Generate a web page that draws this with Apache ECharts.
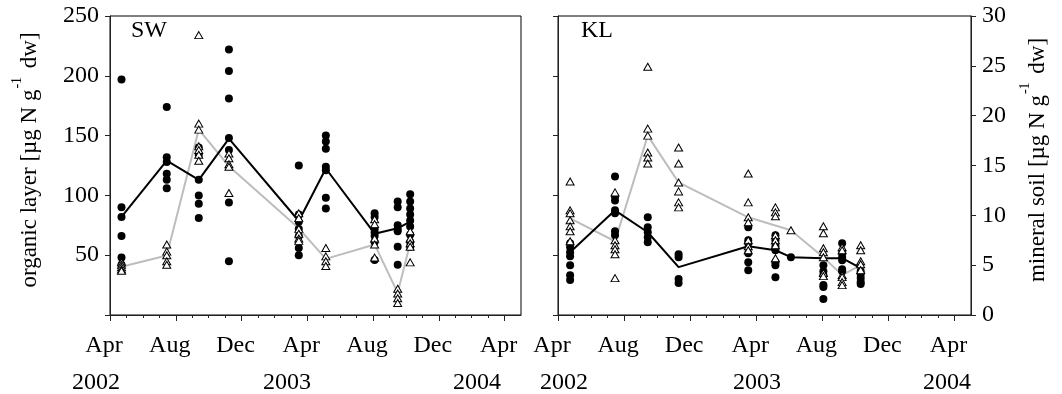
<!DOCTYPE html>
<html><head><meta charset="utf-8">
<script src="https://cdn.jsdelivr.net/npm/echarts@6/dist/echarts.min.js"></script>
<style>html,body{margin:0;padding:0;background:#fff}#c{width:1062px;height:394px}</style>
</head><body><div id="c"></div>
<script>
// ---- data ----
const monthNames = ['Apr', 'Aug', 'Dec'];
const yearLabels = ['2002', '2003', '2004'];

// SW (organic layer, left panel)
const swDates = ['2002-04-22','2002-07-15','2002-09-13','2002-11-08','2003-03-16','2003-05-05','2003-08-04','2003-09-16','2003-10-09'];
const swCircles = [
  [197, 90, 82, 66, 48, 42],
  [174, 132, 128, 118, 113, 106],
  [140, 134, 113, 100, 93, 81],
  [222, 204, 181, 148, 138, 94, 45],
  [125, 84, 78, 72, 66, 56, 50],
  [150, 145, 139, 124, 121, 98, 89],
  [85, 82, 72, 69, 66, 61, 46],
  [95, 90, 75, 72, 70, 57, 42],
  [101, 95, 89, 84, 79, 74, 67, 61, 57]
];
const swTriangles = [
  [44, 42, 40, 38, 37],
  [59, 53, 50, 45, 42],
  [234, 160, 155, 141, 138, 134, 129],
  [135, 131, 126, 124, 102],
  [85, 81, 72, 68, 64, 62],
  [56, 49, 45, 41],
  [80, 76, 64, 59, 48],
  [22, 18, 14, 10],
  [70, 64, 60, 57, 44]
];
const swCircleMean = [82, 129, 113, 147.5, 78.6, 122.5, 68, 72.5, 78];
const swTriangleMean = [40.3, 49.7, 155, 124.4, 72.5, 46.9, 59, 18.5, 60];

// KL (mineral soil, right panel)
const klDates = ['2002-04-23','2002-07-15','2002-09-14','2002-11-10','2003-03-17','2003-05-06','2003-06-04','2003-08-03','2003-09-07','2003-10-11'];
const klCircles = [
  [7.2, 6.8, 6.3, 5.9, 5.0, 4.0, 3.5],
  [13.9, 11.9, 11.5, 10.5, 10.2, 8.4, 8.0],
  [9.8, 8.8, 8.3, 7.8, 7.3],
  [6.1, 5.8, 3.6, 3.2],
  [8.8, 7.5, 7.2, 6.2, 5.3, 4.5],
  [8.0, 7.5, 6.9, 6.5, 5.3, 5.0, 3.8],
  [5.8],
  [5.0, 4.4, 4.0, 3.0, 2.8, 1.6],
  [7.2, 6.2, 5.8, 5.5, 4.6, 4.4],
  [4.4, 4.1, 3.7, 3.3, 3.1]
];
const klTriangles = [
  [13.4, 10.5, 10.2, 9.5, 8.9, 8.4, 7.4],
  [12.3, 7.5, 7.0, 6.6, 6.1, 3.7],
  [24.9, 18.7, 18.0, 16.3, 15.8, 15.2],
  [16.8, 15.2, 13.3, 12.4, 11.3, 10.8],
  [14.2, 11.3, 9.8, 9.3, 7.5, 6.9, 6.5],
  [10.8, 10.3, 9.9, 8.0, 7.5, 7.0, 5.7],
  [8.5],
  [8.9, 8.2, 6.7, 6.3, 5.8, 4.2, 3.9],
  [6.8, 6.5, 4.0, 3.8, 3.3, 3.0],
  [7.0, 6.5, 5.4, 5.1, 4.5]
];
const klCircleMean = [6.3, 10.5, 8.3, 4.8, 6.9, 6.5, 5.8, 5.7, 5.7, 4.7];
const klTriangleMean = [9.7, 7.4, 18.0, 13.3, 9.8, null, 8.5, 5.8, 4.0, 5.0];

// ---- helpers ----
function toMonths(s) {
  const [y, m, d] = s.split('-').map(Number);
  const dim = new Date(y, m, 0).getDate();
  return (y - 2002) * 12 + (m - 4) + (d - 1) / dim;
}
function points(dates, groups) {
  const out = [];
  groups.forEach((g, i) => g.forEach(v => out.push([toMonths(dates[i]), v])));
  return out;
}
function linePts(dates, vals) {
  return vals.map((v, i) => [toMonths(dates[i]), v]);
}

const FONT = "'Liberation Serif', 'Times New Roman', serif";
const majorX = [0, 4, 8, 12, 16, 20, 24];
const minorX = [1,2,3,5,6,7,9,10,11,13,14,15,17,18,19,21,22,23];
const axisColor = '#222';

function xMain(gi) {
  return {
    type: 'value', gridIndex: gi, min: 0, max: 25, interval: 4, position: 'bottom',
    axisLine: { show: true, onZero: false, lineStyle: { color: axisColor, width: 1 } },
    axisTick: { show: true, inside: false, length: 6, customValues: majorX, lineStyle: { color: axisColor } },
    axisLabel: {
      show: true, customValues: majorX, margin: 19, fontSize: 24, fontFamily: FONT, color: '#000',
      padding: [0, 12, 0, 0],
      formatter: v => monthNames[Math.round(v / 4) % 3]
    },
    splitLine: { show: false }
  };
}
function xMinor(gi) {
  return {
    type: 'value', gridIndex: gi, min: 0, max: 25, interval: 1, position: 'bottom',
    axisLine: { show: false, onZero: false },
    axisTick: { show: true, length: 3, customValues: minorX, lineStyle: { color: axisColor } },
    axisLabel: { show: false },
    splitLine: { show: false }
  };
}
function yAx(gi, pos, max, interval, showLabel) {
  return {
    type: 'value', gridIndex: gi, position: pos, min: 0, max: max, interval: interval,
    axisLine: { show: true, onZero: false, lineStyle: { color: axisColor, width: 1 } },
    axisTick: { show: true, length: 5, lineStyle: { color: axisColor } },
    axisLabel: {
      show: showLabel, margin: 11, fontSize: 24, fontFamily: FONT, color: '#000',
      formatter: v => (pos === 'left' && v === 0) ? '' : String(v)
    },
    splitLine: { show: false }
  };
}

const circleStyle = { symbol: 'circle', symbolSize: 8, itemStyle: { color: '#000', opacity: 1 } };
const triStyle = { symbol: 'triangle', symbolSize: [8, 7], itemStyle: { color: '#fff', borderColor: '#000', borderWidth: 1, opacity: 1 } };

function seriesFor(xi, yi, dates, circ, tri, cMean, tMean) {
  return [
    { type: 'line', xAxisIndex: xi, yAxisIndex: yi, data: linePts(dates, tMean), connectNulls: true,
      symbol: 'none', lineStyle: { color: '#bdbdbd', width: 2 }, z: 2 },
    { type: 'line', xAxisIndex: xi, yAxisIndex: yi, data: linePts(dates, cMean), connectNulls: true,
      symbol: 'none', lineStyle: { color: '#000', width: 2 }, z: 2 },
    Object.assign({ type: 'scatter', xAxisIndex: xi, yAxisIndex: yi, data: points(dates, circ), z: 3 }, circleStyle),
    Object.assign({ type: 'scatter', xAxisIndex: xi, yAxisIndex: yi, data: points(dates, tri), z: 4 }, triStyle)
  ];
}

const yearPos = [[96, 287, 477], [564, 757, 947]];
const graphics = [];
yearPos.forEach(row => row.forEach((x, i) => graphics.push({
  type: 'text', x: x, y: 383, silent: true,
  style: { text: yearLabels[i], font: '24px ' + FONT, fill: '#000', align: 'center', verticalAlign: 'middle' }
})));
graphics.push({ type: 'text', x: 131, y: 31, style: { text: 'SW', font: '24px ' + FONT, fill: '#000', align: 'left', verticalAlign: 'middle' } });
graphics.push({ type: 'text', x: 581, y: 31, style: { text: 'KL', font: '24px ' + FONT, fill: '#000', align: 'left', verticalAlign: 'middle' } });
const richSup = { s: { fontSize: 14, fontFamily: FONT, fill: '#000', verticalAlign: 'bottom', padding: [0, 3, 26, 1] } };
graphics.push({ type: 'text', x: 30, y: 160, rotation: Math.PI / 2,
  style: { text: 'organic layer [µg N g{s|-1} dw]', fontSize: 23, fontFamily: FONT, fill: '#000', align: 'center', verticalAlign: 'middle', rich: richSup } });
graphics.push({ type: 'text', x: 1038, y: 160, rotation: Math.PI / 2,
  style: { text: 'mineral soil [µg N g{s|-1} dw]', fontSize: 23, fontFamily: FONT, fill: '#000', align: 'center', verticalAlign: 'middle', rich: richSup } });

const chart = echarts.init(document.getElementById('c'), null, { renderer: 'canvas' });
chart.setOption({
  animation: false,
  backgroundColor: '#fff',
  grid: [
    { left: 110, top: 16, width: 411, height: 299, show: true, borderColor: '#000', borderWidth: 1, backgroundColor: 'transparent' },
    { left: 558, top: 16, width: 413, height: 299, show: true, borderColor: '#000', borderWidth: 1, backgroundColor: 'transparent' }
  ],
  xAxis: [xMain(0), xMinor(0), xMain(1), xMinor(1)],
  yAxis: [yAx(0, 'left', 250, 50, true), yAx(1, 'right', 30, 5, true), yAx(1, 'left', 250, 50, false)],
  series: [].concat(
    seriesFor(0, 0, swDates, swCircles, swTriangles, swCircleMean, swTriangleMean),
    seriesFor(2, 1, klDates, klCircles, klTriangles, klCircleMean, klTriangleMean)
  ),
  graphic: graphics
});
</script>
</body></html>
